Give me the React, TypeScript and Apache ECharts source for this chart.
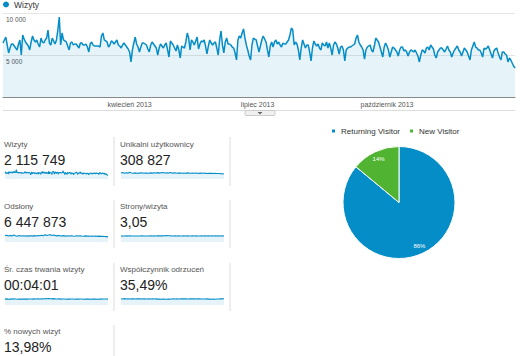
import React, { useEffect, useRef } from "react";
import * as echarts from "echarts";

// Daily visits ("Wizyty"), 2013-01-01 .. 2013-12-31
const visits = [
  6430, 6790, 7140, 6190, 5240, 5830, 6310, 6310, 6070, 5830, 5600, 6310, 6790, 5000,
  7380, 6900, 6550, 6310, 6070, 5600, 6550, 7260, 6790, 6550, 6790, 6310, 5950, 7020,
  6550, 6430, 6790, 7020, 7970, 6430, 6190, 7020, 6670, 6310, 6790, 7970, 9520, 6190,
  7620, 6790, 6670, 6550, 6070, 5600, 6430, 6550, 6190, 6310, 6310, 6070, 5830, 6430,
  6430, 6190, 6190, 6310, 5950, 5360, 6310, 6550, 6190, 6070, 6070, 6070, 6070, 5950,
  7260, 7620, 6790, 6670, 6550, 5950, 6190, 6670, 6550, 6310, 6550, 6790, 6190, 6070,
  5830, 6190, 6430, 6190, 5950, 5710, 5360, 4170, 5600, 6430, 7140, 6310, 5950, 5360,
  5950, 6430, 6430, 6310, 6190, 5710, 5360, 6190, 6550, 6310, 6070, 5830, 5000, 5830,
  6310, 6070, 5830, 6190, 6430, 5600, 4760, 6670, 6430, 6190, 5830, 5480, 6190, 5600,
  4640, 6070, 5950, 5830, 6550, 7620, 7020, 5600, 6790, 6550, 6190, 6670, 7140, 5710,
  6310, 6670, 6550, 6790, 6070, 5120, 6070, 6790, 6430, 6190, 6430, 6550, 5830, 5000,
  6790, 7860, 6190, 5240, 6550, 7020, 6310, 6310, 6190, 5950, 5830, 5240, 4410, 6790,
  7260, 7020, 7620, 8100, 7020, 6190, 5600, 4880, 4410, 6190, 7020, 6900, 6790, 6070,
  5360, 6070, 6790, 7260, 6900, 6550, 5600, 4760, 6070, 6550, 5950, 6550, 6790, 6310,
  6550, 6190, 5950, 6430, 6310, 6310, 6550, 6790, 7380, 8210, 7970, 6190, 6550, 6310,
  5600, 4410, 5830, 6790, 6310, 5830, 6190, 6190, 5360, 4290, 5830, 6670, 6310, 6070,
  6310, 5830, 5600, 6430, 6190, 6070, 6550, 5830, 6430, 5830, 5000, 6190, 6550, 6310,
  5830, 5120, 5950, 6070, 5600, 4290, 5600, 5830, 5950, 5950, 6070, 6190, 6310, 7020,
  7380, 6550, 6190, 5950, 5600, 4520, 5600, 5950, 6070, 6190, 5600, 5360, 6070, 7020,
  6790, 6550, 5950, 5360, 4760, 5950, 6430, 6070, 5600, 4760, 5360, 5950, 5830, 5600,
  5360, 4880, 5600, 5950, 5950, 5480, 5600, 5360, 4880, 5360, 5600, 5480, 5360, 5600,
  5240, 4880, 4170, 5000, 5600, 5480, 5240, 5830, 5950, 5600, 6190, 5950, 5710, 5000,
  4640, 5360, 5600, 5830, 5830, 5600, 5360, 5710, 6070, 5600, 5360, 4760, 5240, 5600,
  5830, 6070, 5600, 5360, 4880, 5360, 5830, 5600, 5360, 4880, 4410, 5600, 6070, 6550,
  5950, 5830, 5600, 5600, 5240, 4760, 5830, 5710, 5830, 6070, 5600, 5120, 4640, 5480,
  5710, 5830, 5240, 4760, 4410, 5360, 5360, 5120, 5000, 4170, 4640, 4410, 4050, 3690,
  3450,
];

// Sparkline series for the scorecards
const uniques = [
  1050, 1120, 980, 1090, 1010, 1150, 1040, 1000, 1060, 990, 1030, 1010, 1070, 980, 1020,
  1040, 1000, 1060, 1010, 1080, 1030, 1100, 1020, 1070, 1120, 1040, 1090, 1010, 1130, 1060,
  1020, 1080, 1000, 1050, 1020, 990, 1040, 1000, 1060, 1010, 980, 1030, 990, 1040, 1000,
  970, 1020, 990, 1010, 960, 1000, 970, 990, 950, 980, 940, 960, 920, 900, 850,
];
const pageviews = [
  18500, 20500, 17800, 19800, 18200, 21000, 18800, 17500, 19200, 18000, 18600, 17900,
  19000, 17600, 18300, 18800, 17700, 19100, 18200, 19500, 18500, 20200, 18900, 21500,
  19300, 20800, 22000, 19500, 21200, 19000, 18400, 19800, 17900, 19000, 18300, 17500,
  18700, 17900, 18900, 18100, 17400, 18500, 17800, 18800, 18000, 17300, 18400, 17600,
  18200, 17100, 17900, 17400, 18000, 16800, 17600, 16900, 17400, 16500, 16200, 15500,
];
const pagesPerVisit = [
  2.95, 3.02, 2.98, 3.05, 2.96, 3.08, 3.0, 2.97, 3.03, 2.99, 3.01, 2.98, 3.04, 2.97, 3.0,
  3.03, 2.98, 3.05, 3.01, 3.07, 3.02, 3.1, 3.04, 3.15, 3.08, 3.12, 3.2, 3.1, 3.16, 3.06,
  3.02, 3.08, 3.0, 3.05, 3.02, 2.98, 3.04, 3.0, 3.06, 3.02, 2.99, 3.05, 3.01, 3.07, 3.03,
  3.0, 3.06, 3.02, 3.05, 2.99, 3.04, 3.01, 3.06, 3.0, 3.05, 3.02, 3.07, 3.03, 3.05, 3.0,
];
const avgDuration = [
  235, 245, 232, 240, 236, 248, 238, 233, 242, 236, 239, 234, 243, 235, 238, 242, 236, 244,
  238, 246, 240, 250, 243, 258, 247, 262, 252, 245, 255, 243, 238, 246, 236, 242, 238, 233,
  241, 236, 243, 238, 232, 240, 235, 242, 237, 231, 239, 234, 240, 233, 238, 235, 241, 233,
  239, 236, 242, 237, 239, 234,
];
const bounceRate = [
  36.5, 34.8, 36.9, 35.1, 36.2, 34.5, 35.8, 36.6, 35.2, 36.0, 35.5, 36.3, 35.0, 36.4, 35.7,
  35.2, 36.1, 34.9, 35.6, 34.7, 35.4, 34.3, 35.2, 33.8, 35.0, 34.2, 33.5, 34.6, 33.9, 35.1,
  35.6, 34.8, 36.0, 35.3, 35.8, 36.4, 35.4, 36.0, 35.2, 35.7, 36.3, 35.4, 35.9, 35.0, 35.5,
  36.0, 34.8, 35.3, 34.5, 35.6, 34.2, 35.0, 33.6, 34.4, 33.8, 35.0, 34.6, 35.5, 35.9, 36.2,
];

// Scorecards
const cardLabels = [
  "Wizyty", "Unikalni użytkownicy", "Odsłony", "Strony/wizyta",
  "Śr. czas trwania wizyty", "Współczynnik odrzuceń", "% nowych wizyt",
];
const cardValues = ["2 115 749", "308 827", "6 447 873", "3,05", "00:04:01", "35,49%", "13,98%"];

// Pie
const pieNames = ["Returning Visitor", "New Visitor"];
const pieValues = [86.02, 13.98];

const monthLabels: Record<string, string> = {
  "2013-04-01": "kwiecień 2013",
  "2013-07-01": "lipiec 2013",
  "2013-10-01": "październik 2013",
};

const BLUE = "#058dc7";
const GREEN = "#50b432";
const FILL = "rgba(5,141,199,0.1)";
const FONT = '"Liberation Sans", Arial, sans-serif';

function buildDays(n: number) {
  const out: string[] = [];
  const start = Date.UTC(2013, 0, 1);
  for (let i = 0; i < n; i++) {
    const d = new Date(start + i * 86400000);
    out.push(d.toISOString().slice(0, 10));
  }
  return out;
}

export default function App() {
  const ref = useRef<HTMLDivElement>(null);
  useEffect(() => {
    if (!ref.current) return;
    const chart = echarts.init(ref.current, null, { renderer: "svg" });
    const days = buildDays(visits.length);

    const sparks = [
      { data: visits, max: 11000 },
      { data: uniques, max: 1900 },
      { data: pageviews, max: 33000 },
      { data: pagesPerVisit, max: 5.5 },
      { data: avgDuration, max: 440 },
      { data: bounceRate, max: 64 },
    ];
    const colX = [5, 121];
    const sparkTop = [168, 231, 294];

    const grids: any[] = [{ left: 3, right: 5, top: 13, bottom: 259 }];
    const xAxes: any[] = [
      {
        type: "category",
        gridIndex: 0,
        data: days,
        boundaryGap: false,
        axisLine: { lineStyle: { color: "#888", width: 1 } },
        axisTick: { show: false },
        axisLabel: {
          interval: (_i: number, v: string) => v in monthLabels,
          formatter: (v: string) => monthLabels[v] || "",
          fontSize: 7,
          color: "#555",
          fontFamily: FONT,
          margin: 4,
        },
      },
    ];
    const yAxes: any[] = [
      {
        type: "value",
        gridIndex: 0,
        min: 0,
        max: 10000,
        interval: 5000,
        axisLine: { show: false },
        axisTick: { show: false },
        splitLine: { lineStyle: { color: "#e6e6e6" } },
        axisLabel: {
          inside: true,
          margin: 3,
          verticalAlign: "top",
          padding: [3, 0, 0, 0],
          fontSize: 6.5,
          color: "#555",
          fontFamily: FONT,
          formatter: (v: number) =>
            v === 0 ? "" : String(v).replace(/\B(?=(\d{3})+(?!\d))/g, " "),
        },
      },
    ];
    const series: any[] = [
      {
        name: "Wizyty",
        type: "line",
        xAxisIndex: 0,
        yAxisIndex: 0,
        data: visits,
        showSymbol: false,
        lineStyle: { color: BLUE, width: 1.5 },
        itemStyle: { color: BLUE },
        areaStyle: { color: FILL, opacity: 1 },
      },
    ];

    sparks.forEach((s, i) => {
      const col = i % 2;
      const row = Math.floor(i / 2);
      grids.push({ left: colX[col], top: sparkTop[row], width: 103, height: 11 });
      xAxes.push({
        type: "category",
        gridIndex: i + 1,
        data: s.data.map((_, k) => k),
        boundaryGap: false,
        show: false,
      });
      yAxes.push({ type: "value", gridIndex: i + 1, min: 0, max: s.max, show: false });
      series.push({
        name: "spark" + i,
        type: "line",
        xAxisIndex: i + 1,
        yAxisIndex: i + 1,
        data: s.data,
        showSymbol: false,
        silent: true,
        lineStyle: { color: BLUE, width: 1.1 },
        areaStyle: { color: FILL, opacity: 1 },
      });
    });

    const pieData = pieNames.map((n, i) => ({
      name: n,
      value: pieValues[i],
      itemStyle: { color: i === 0 ? BLUE : GREEN },
    }));
    series.push({
      name: "Typ użytkownika",
      type: "pie",
      center: [399, 202.5],
      radius: [0, 56],
      startAngle: 90,
      clockwise: true,
      data: pieData,
      itemStyle: { borderColor: "#fff", borderWidth: 1 },
      label: { show: false },
      labelLine: { show: false },
      silent: true,
    });
    series.push({
      name: "pieLabels",
      type: "pie",
      center: [399, 202.5],
      radius: [34, 56],
      startAngle: 90,
      clockwise: true,
      silent: true,
      data: pieNames.map((n, i) => ({ name: n, value: pieValues[i] })),
      itemStyle: { color: "transparent" },
      label: {
        show: true,
        position: "inside",
        formatter: (p: any) => Math.round(p.percent) + "%",
        fontSize: 6,
        color: "#fff",
        fontFamily: FONT,
      },
      labelLine: { show: false },
    });

    const graphic: any[] = [];
    const rowLabelY = [144, 206.5, 269, 331.5];
    const rowValueY = [160, 222, 285, 347];
    const textX = [4, 120];
    cardLabels.forEach((lab, i) => {
      const col = i % 2;
      const row = Math.floor(i / 2);
      graphic.push({
        type: "text",
        x: textX[col],
        y: rowLabelY[row],
        style: {
          text: lab,
          fontSize: 8,
          fontFamily: FONT,
          fill: "#555",
          verticalAlign: "middle",
          textVerticalAlign: "middle",
        },
      });
      graphic.push({
        type: "text",
        x: textX[col],
        y: rowValueY[row],
        style: {
          text: cardValues[i],
          fontSize: 14,
          fontFamily: FONT,
          fill: "#222",
          verticalAlign: "middle",
          textVerticalAlign: "middle",
        },
      });
    });
    const sepRows = [
      [137, 186],
      [200, 248],
      [263, 311],
    ];
    sepRows.forEach(([a, b]) => {
      [114, 230].forEach((x) => {
        graphic.push({
          type: "line",
          shape: { x1: x, y1: a, x2: x, y2: b },
          style: { stroke: "#dddddd", lineWidth: 1 },
        });
      });
    });
    graphic.push({
      type: "line",
      shape: { x1: 114, y1: 325, x2: 114, y2: 356 },
      style: { stroke: "#dddddd", lineWidth: 1 },
    });
    // bottom border of the timeline and its handle
    graphic.push({
      type: "line",
      shape: { x1: 3, y1: 110.5, x2: 515, y2: 110.5 },
      style: { stroke: "#dddddd", lineWidth: 1 },
    });
    graphic.push({
      type: "rect",
      shape: { x: 245, y: 110.5, width: 30, height: 5, r: 1 },
      style: { fill: "#f0f0f0", stroke: "#cccccc", lineWidth: 1 },
    });
    graphic.push({
      type: "polygon",
      shape: { points: [[257.5, 112], [262.5, 112], [260, 114.5]] },
      style: { fill: "#666" },
    });

    chart.setOption({
      animation: false,
      textStyle: { fontFamily: FONT },
      legend: [
        {
          data: ["Wizyty"],
          left: 3,
          top: 0,
          padding: 0,
          icon: "circle",
          itemWidth: 6,
          itemHeight: 6,
          itemGap: 10,
          textStyle: { fontSize: 8.5, color: "#333", fontFamily: FONT },
          selectedMode: false,
        },
        {
          data: pieNames,
          left: 330,
          top: 127,
          padding: 0,
          icon: "rect",
          itemWidth: 5,
          itemHeight: 5,
          itemGap: 8,
          textStyle: { fontSize: 8, color: "#333", fontFamily: FONT },
          selectedMode: false,
        },
      ],
      grid: grids,
      xAxis: xAxes,
      yAxis: yAxes,
      series,
      graphic,
    });
    return () => chart.dispose();
  }, []);

  return (
    <div
      ref={ref}
      style={{ position: "fixed", left: 0, top: 0, width: 520, height: 356, background: "#fff" }}
    />
  );
}
